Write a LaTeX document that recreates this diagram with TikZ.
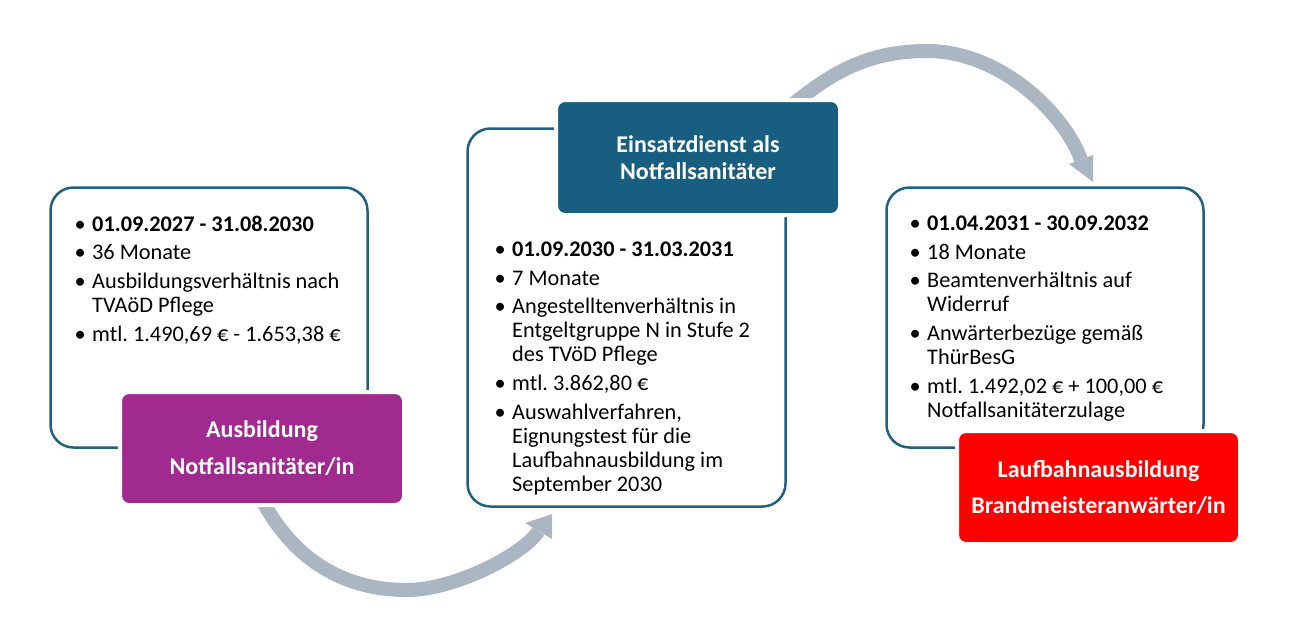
\documentclass[tikz,border=0pt]{standalone}
\usepackage{fontspec}
\setmainfont{Carlito}
\definecolor{outl}{RGB}{31,96,133}
\definecolor{tealbox}{RGB}{23,94,128}
\definecolor{purplebox}{RGB}{160,42,143}
\definecolor{redbox}{RGB}{255,0,0}
\definecolor{arrowgray}{RGB}{170,182,194}
\tikzset{
  outbox/.style={draw=outl, line width=2.5pt, rounded corners=23pt, fill=white, inner sep=0pt},
  titlebox/.style={draw=white, line width=4pt, rounded corners=9pt, inner sep=0pt, text=white, align=center},
  body/.style={inner sep=0pt, align=left, anchor=north west, font=\fontsize{22.3}{24}\selectfont},
  flow/.style={draw=arrowgray, line width=14pt},
  flowhead/.style={fill=arrowgray},
}
\newcommand\bul{\llap{•\hspace{6.5pt}}}
\frenchspacing
\begin{document}
\frenchspacing
\begin{tikzpicture}[x=1pt,y=-1pt]
\useasboundingbox (0,0) rectangle (1293,630);
% arrows (behind)
\coordinate (a1s) at (258,492);
\coordinate (a1b) at (407,590);
\coordinate (a1e) at (538.5,531);
\coordinate (h1a) at (525,523);
\coordinate (h1t) at (552,514);
\coordinate (h1b) at (552,539);
\draw[flow] (a1s) .. controls (285,548) and (332,590) .. (a1b)
  .. controls (455,590) and (524,554) .. (a1e);
\fill[flowhead] (h1a) -- (h1t) -- (h1b) -- cycle;
\coordinate (a2s) at (786,110);
\coordinate (a2t) at (927,51);
\coordinate (a2e) at (1081,159.5);
\coordinate (h2a) at (1069,164);
\coordinate (h2b) at (1093,155);
\coordinate (h2t) at (1093,182);
\draw[flow] (a2s) .. controls (828,75) and (865,51) .. (a2t)
  .. controls (1000,51) and (1063.5,112.5) .. (a2e);
\fill[flowhead] (h2a) -- (h2b) -- (h2t) -- cycle;
% outline boxes
\node[outbox, minimum width=317pt, minimum height=260pt] (box1) at (209,317.5) {};
\node[outbox, minimum width=318pt, minimum height=378pt] (box2) at (626.5,317.5) {};
\node[outbox, minimum width=317pt, minimum height=260pt] (box3) at (1045,317.5) {};
% body texts
\node[body] (t1) at (92,215.5) {\bul\textbf{01.09.2027 - 31.08.2030}\\[4.7pt]
\bul 36 Monate\\[4.7pt]
\bul Ausbildungsverhältnis nach\\
TVAöD Pflege\\[4.7pt]
\bul mtl. 1.490,69 € - 1.653,38 €};
\node[body] (t2) at (512,241.5) {\bul\textbf{01.09.2030 - 31.03.2031}\\[4.7pt]
\bul 7 Monate\\[4.7pt]
\bul Angestelltenverhältnis in\\
Entgeltgruppe N in Stufe 2\\
des TVöD Pflege\\[4.7pt]
\bul mtl. 3.862,80 €\\[4.7pt]
\bul Auswahlverfahren,\\
Eignungstest für die\\
Laufbahnausbildung im\\
September 2030};
\node[body] (t3) at (927,215.5) {\bul\textbf{01.04.2031 - 30.09.2032}\\[4.7pt]
\bul 18 Monate\\[4.7pt]
\bul Beamtenverhältnis auf\\
Widerruf\\[4.7pt]
\bul Anwärterbezüge gemäß\\
ThürBesG\\[4.7pt]
\bul mtl. 1.492,02 € + 100,00 €\\
Notfallsanitäterzulage};
% title boxes
\node[titlebox, fill=purplebox, minimum width=284pt, minimum height=113pt,
  font=\fontsize{24}{37}\selectfont\bfseries] (ausb) at (262,448.5)
  {Ausbildung\\Notfallsanitäter/in};
\node[titlebox, fill=tealbox, minimum width=284pt, minimum height=115pt,
  font=\fontsize{24}{27}\selectfont\bfseries] (eins) at (698,157.5)
  {Einsatzdienst als\\Notfallsanitäter};
\node[titlebox, fill=redbox, minimum width=283pt, minimum height=113pt,
  font=\fontsize{24}{36}\selectfont\bfseries] (lauf) at (1098.5,487.5)
  {Laufbahnausbildung\\Brandmeisteranwärter/in};
\end{tikzpicture}
\end{document}
